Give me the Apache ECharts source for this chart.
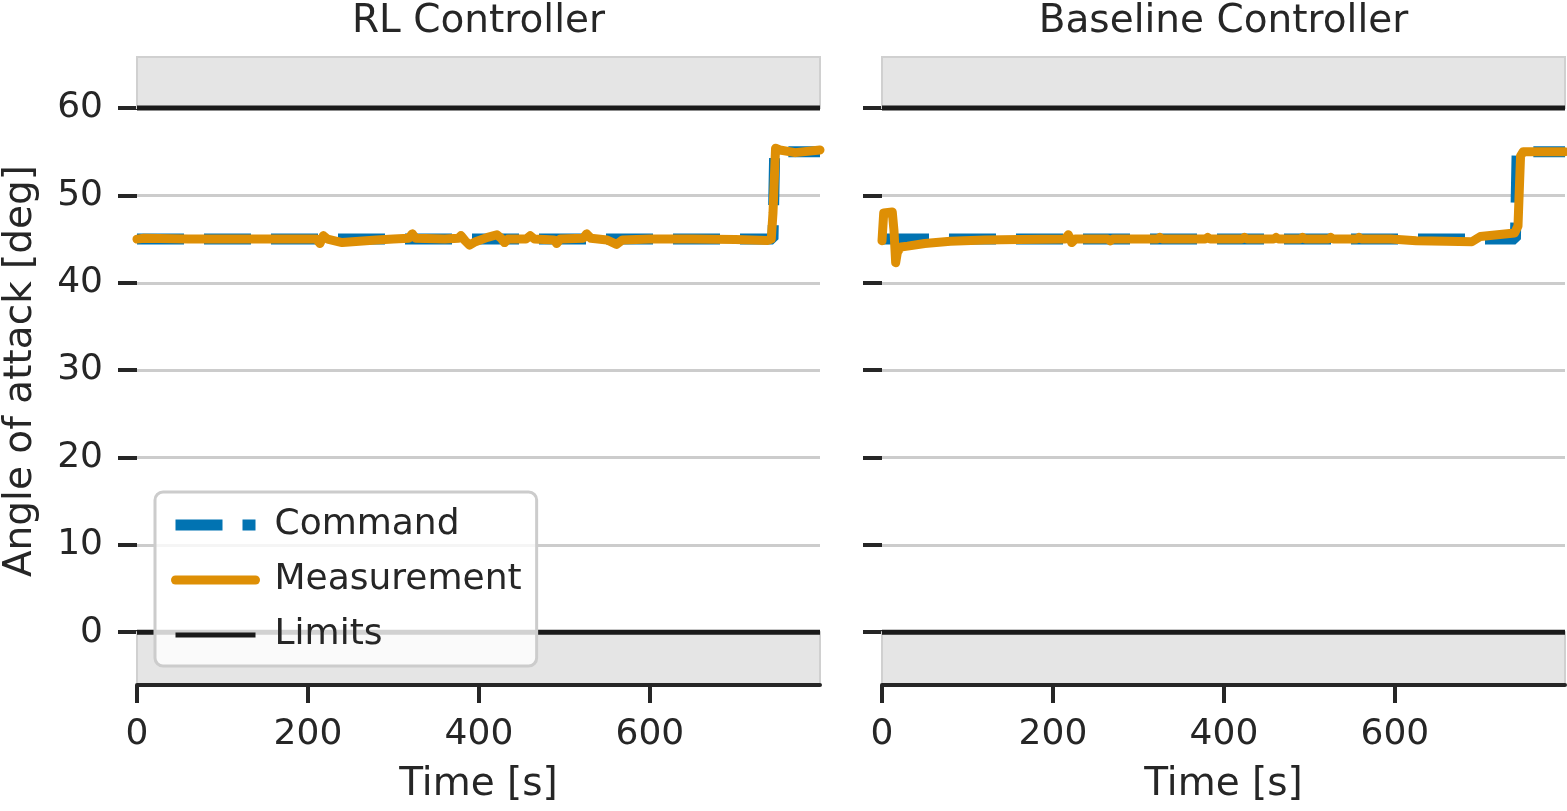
<!DOCTYPE html>
<html>
<head>
<meta charset="utf-8">
<title>Angle of attack</title>
<script src="https://cdn.jsdelivr.net/npm/echarts@6/dist/echarts.min.js"></script>
<style>
html, body { margin: 0; padding: 0; background: #fff; }
#chart { width: 1567px; height: 811px; }
</style>
</head>
<body>
<div id="chart"></div>
<script>
// panels and axes
const panelTitles = ["RL Controller", "Baseline Controller"];
const xTicks = [0, 200, 400, 600];
const yTicks = [0, 10, 20, 30, 40, 50, 60];
const limitLow = 0;
const limitHigh = 60;
const tEnd = 799;

// RL controller
const rlCommand = [[0, 45], [744, 45], [746, 55], [799, 55]];
const rlMeasurement = [
    [0, 45.0], [8, 45.1], [60, 45.0], [120, 45.0], [180, 45.0], [210, 45.0],
    [214, 44.5], [218, 45.4], [223, 45.0], [240, 44.6], [260, 44.75], [280, 44.9],
    [300, 45.0], [318, 45.1], [322, 45.6], [326, 45.1], [360, 45.0], [376, 45.1],
    [379, 45.4], [384, 44.8], [389, 44.3], [396, 44.7], [410, 45.2], [421, 45.5],
    [426, 45.1], [430, 44.6], [434, 45.0], [455, 45.0], [460, 45.4], [465, 45.0],
    [488, 44.9], [491, 44.5], [495, 45.0], [522, 45.1], [526, 45.6], [531, 45.1],
    [550, 44.9], [561, 44.4], [568, 44.9], [600, 45.0], [650, 45.0], [700, 44.95],
    [738, 44.85], [742, 45.0], [744, 48.0], [747, 55.4], [752, 55.2], [770, 54.9],
    [799, 55.2]
];

// baseline controller
const baseCommand = [[0, 45], [741, 45], [743, 55], [799, 55]];
const baseMeasurement = [
    [0, 44.8], [2, 48.0], [12, 48.1], [14, 46.0], [16, 42.3], [18, 43.5], [22, 44.1],
    [30, 44.2], [50, 44.5], [80, 44.75], [120, 44.9], [160, 44.95], [214, 45.0],
    [218, 45.5], [222, 44.6], [226, 45.0], [264, 45.0], [267, 44.8], [270, 45.0],
    [322, 45.0], [325, 45.2], [328, 45.0], [378, 45.0], [381, 45.2], [384, 45.0],
    [421, 45.0], [424, 45.2], [427, 45.0], [458, 45.0], [461, 45.2], [464, 45.0],
    [489, 45.0], [492, 45.2], [495, 45.0], [522, 45.0], [525, 45.2], [528, 45.0],
    [555, 45.0], [558, 45.2], [561, 45.0], [595, 45.0], [625, 44.8], [660, 44.75],
    [690, 44.7], [700, 45.3], [720, 45.5], [740, 45.7], [744, 46.5], [747, 54.5],
    [750, 55.0], [770, 55.0], [799, 55.0]
];

const FONT = "DejaVu Sans";
const INK = "#262626";
const BLUE = "#0173b2";
const ORANGE = "#de8f05";
const LIMIT = "#1a1a1a";
const yMin = -6.05, yMax = 65.85;

const chart = echarts.init(document.getElementById("chart"), null, { renderer: "canvas" });

let grids = [], xAxes = [], yAxes = [], series = [];
let panelLeft = [137, 882];

let makePanel = (i, command, measurement) => {
    grids.push({ left: panelLeft[i], top: 57, width: 683, height: 628 });
    xAxes.push({
        type: "value", gridIndex: i, min: 0, max: tEnd, z: 5,
        name: "Time [s]", nameLocation: "middle", nameGap: 80,
        nameTextStyle: { fontFamily: FONT, fontSize: 39, color: INK },
        axisLine: { onZero: false, lineStyle: { color: INK, width: 4 } },
        axisTick: { length: 18, customValues: xTicks, lineStyle: { color: INK, width: 4 } },
        axisLabel: { customValues: xTicks, margin: 32, fontFamily: FONT, fontSize: 36, color: INK },
        splitLine: { show: false },
    });
    yAxes.push({
        type: "value", gridIndex: i, min: yMin, max: yMax,
        name: i === 0 ? "Angle of attack [deg]" : "", nameLocation: "middle", nameGap: 97,
        nameTextStyle: { fontFamily: FONT, fontSize: 39, color: INK },
        axisLine: { show: false, onZero: false },
        axisTick: { show: true, length: 19, customValues: yTicks, lineStyle: { color: INK, width: 4 } },
        axisLabel: { show: i === 0, customValues: yTicks, margin: 34, fontFamily: FONT, fontSize: 36, color: INK },
        splitLine: { show: true, lineStyle: { color: "#cccccc", width: 3 } },
    });
    series.push({
        name: "Limits", type: "line", xAxisIndex: i, yAxisIndex: i,
        data: [[0, limitHigh], [tEnd, limitHigh]], symbol: "none", silent: true,
        lineStyle: { color: LIMIT, width: 5 }, itemStyle: { color: LIMIT },
        markArea: {
            silent: true,
            itemStyle: { color: "#e5e5e5", borderColor: "#d0d0d0", borderWidth: 2 },
            data: [[{ yAxis: limitHigh }, { yAxis: yMax }], [{ yAxis: yMin }, { yAxis: limitLow }]],
        },
        z: 3,
    });
    series.push({
        name: "Limits", type: "line", xAxisIndex: i, yAxisIndex: i,
        data: [[0, limitLow], [tEnd, limitLow]], symbol: "none", silent: true,
        lineStyle: { color: LIMIT, width: 5 }, itemStyle: { color: LIMIT },
        z: 3,
    });
    series.push({
        name: "Command", type: "line", xAxisIndex: i, yAxisIndex: i,
        data: command, symbol: "none", silent: true,
        lineStyle: { color: BLUE, width: 11, type: [47, 20] }, itemStyle: { color: BLUE },
        z: 4,
    });
    series.push({
        name: "Measurement", type: "line", xAxisIndex: i, yAxisIndex: i,
        data: measurement, symbol: "none", silent: true,
        lineStyle: { color: ORANGE, width: 9, cap: "round", join: "round" }, itemStyle: { color: ORANGE },
        z: 4,
    });
};

makePanel(0, rlCommand, rlMeasurement);
makePanel(1, baseCommand, baseMeasurement);

chart.setOption({
    animation: false,
    backgroundColor: "#ffffff",
    textStyle: { fontFamily: FONT },
    grid: grids,
    xAxis: xAxes,
    yAxis: yAxes,
    series: series,
    graphic: panelTitles.map((t, i) => ({
        type: "text", x: panelLeft[i] + 341.5, y: 22,
        style: { text: t, align: "center", verticalAlign: "middle", fontFamily: FONT, fontSize: 39, fill: INK },
    })),
    legend: {
        orient: "vertical", left: 155, top: 492, z: 10,
        padding: [13, 15, 11, 15], itemGap: 15, itemWidth: 80, itemHeight: 14,
        backgroundColor: "rgba(255,255,255,0.8)", borderColor: "#cccccc", borderWidth: 3, borderRadius: 8,
        selectedMode: false,
        textStyle: { fontFamily: FONT, fontSize: 36, color: INK, lineHeight: 40, padding: [0, 0, 0, 14] },
        data: [
            { name: "Command", lineStyle: { width: 11, type: [47, 20] }, itemStyle: { opacity: 0 } },
            { name: "Measurement", lineStyle: { width: 9, cap: "round" }, itemStyle: { opacity: 0 } },
            { name: "Limits", lineStyle: { width: 5 }, itemStyle: { opacity: 0 } },
        ],
    },
});
</script>
</body>
</html>
